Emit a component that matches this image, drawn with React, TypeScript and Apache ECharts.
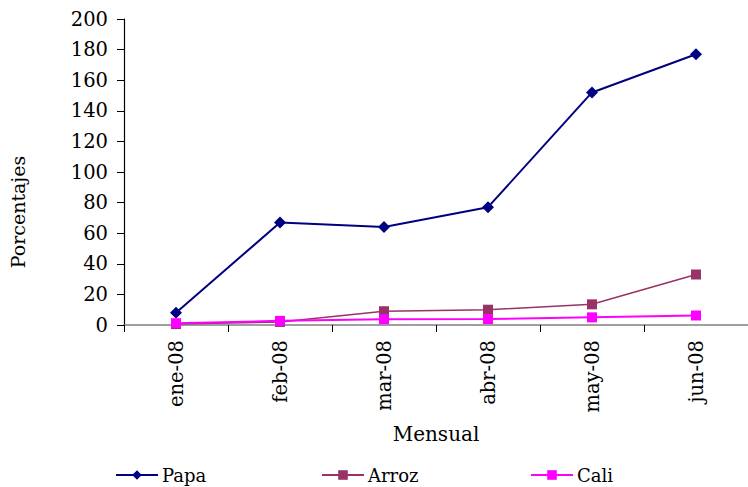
import React, { useEffect, useRef } from "react";
import * as echarts from "echarts";

const categories = ["ene-08", "feb-08", "mar-08", "abr-08", "may-08", "jun-08"];
const papa = [8, 67, 64, 77, 152, 177];
const arroz = [0.6, 2, 9, 10, 13.5, 33];
const cali = [1.2, 2.7, 3.8, 3.9, 5, 6.2];
const yTicks = { min: 0, max: 200, interval: 20 };

const FONT = "DejaVu Serif";

export default function App() {
  const ref = useRef<HTMLDivElement>(null);
  useEffect(() => {
    document.body.style.margin = "0";
    const chart = echarts.init(ref.current!, null, { renderer: "svg" });
    const legendBase = {
      orient: "horizontal",
      top: 466,
      itemWidth: 42,
      itemHeight: 12,
      itemGap: 0,
      textStyle: { fontFamily: FONT, fontSize: 18, color: "#000", padding: [0, 0, 0, -1] },
      padding: 0,
    };
    chart.setOption({
      animation: false,
      backgroundColor: "#fff",
      grid: { left: 124, right: -8, top: 19, bottom: 162 },
      legend: [
        { ...legendBase, left: 115, data: ["Papa"] },
        { ...legendBase, left: 321, data: ["Arroz"] },
        { ...legendBase, left: 530, data: ["Cali"] },
      ],
      graphic: [
        {
          type: "text",
          x: 18,
          y: 212,
          rotation: Math.PI / 2,
          style: {
            text: "Porcentajes",
            fontFamily: FONT,
            fontSize: 19,
            fill: "#000",
            align: "center",
            verticalAlign: "middle",
          },
        },
      ],
      xAxis: {
        type: "category",
        data: categories,
        boundaryGap: true,
        name: "Mensual",
        nameLocation: "middle",
        nameGap: 99,
        nameTextStyle: { fontFamily: FONT, fontSize: 20, color: "#000", padding: [0, 0, 0, 0] },
        axisLine: { lineStyle: { color: "#7f7f7f", width: 1.5 } },
        axisTick: { show: true, alignWithLabel: false, length: 7, lineStyle: { color: "#000" } },
        axisLabel: {
          rotate: 90,
          margin: 15,
          fontFamily: FONT,
          fontSize: 19.5,
          color: "#000",
        },
        splitLine: { show: false },
      },
      yAxis: {
        type: "value",
        min: yTicks.min,
        max: yTicks.max,
        interval: yTicks.interval,
        axisLine: { show: true, lineStyle: { color: "#000", width: 1.2 } },
        axisTick: { show: true, length: 7, lineStyle: { color: "#000" } },
        axisLabel: { margin: 16, fontFamily: FONT, fontSize: 19.5, color: "#000" },
        splitLine: { show: false },
      },
      series: [
        {
          name: "Papa",
          type: "line",
          data: papa,
          symbol: "diamond",
          symbolSize: 12,
          lineStyle: { color: "#000080", width: 2 },
          itemStyle: { color: "#000080" },
          z: 3,
        },
        {
          name: "Arroz",
          type: "line",
          data: arroz,
          symbol: "rect",
          symbolSize: 10,
          lineStyle: { color: "#993366", width: 1.5 },
          itemStyle: { color: "#993366" },
          z: 2,
        },
        {
          name: "Cali",
          type: "line",
          data: cali,
          symbol: "rect",
          symbolSize: 10,
          lineStyle: { color: "#ff00ff", width: 2 },
          itemStyle: { color: "#ff00ff" },
          z: 4,
        },
      ],
    });
    return () => chart.dispose();
  }, []);
  return <div ref={ref} style={{ width: 748, height: 487 }} />;
}
